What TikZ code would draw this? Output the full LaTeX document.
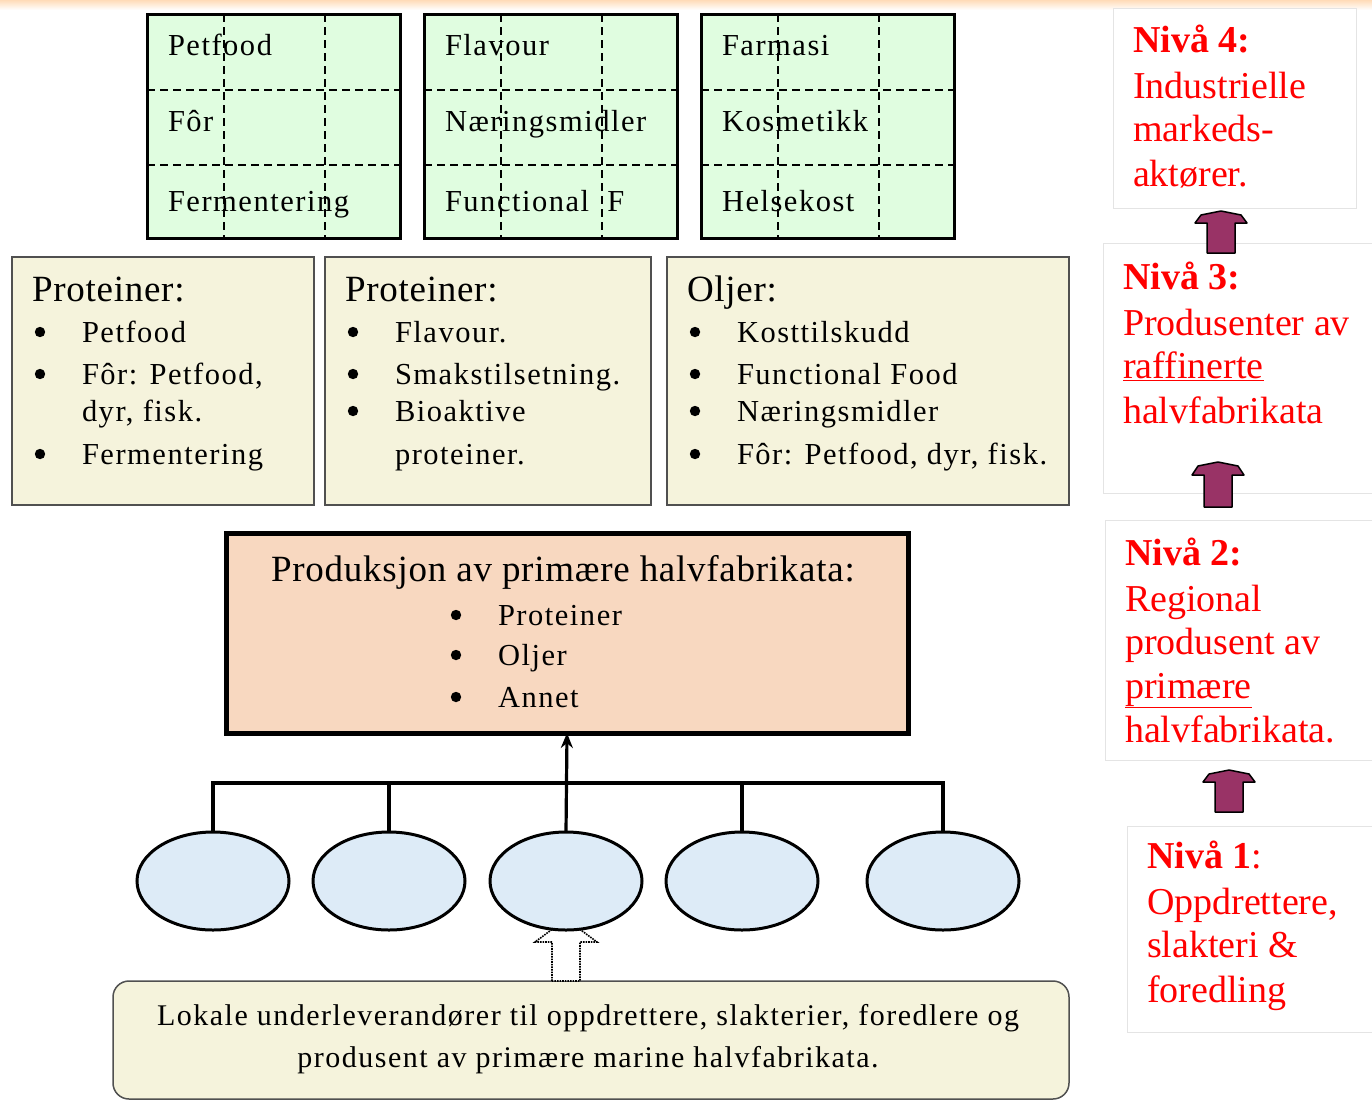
\documentclass[tikz,border=0pt]{standalone}
\usepackage{fontspec}
\setmainfont{Liberation Serif}
\newfontfamily\spacedf[LetterSpace=5]{Liberation Serif}
\newfontfamily\headf[LetterSpace=2]{Liberation Serif}
\usetikzlibrary{calc,shapes.geometric,arrows.meta}
\definecolor{greenfill}{HTML}{E0FDE0}
\definecolor{tanfill}{HTML}{F5F3DC}
\definecolor{peach}{HTML}{F8D8C0}
\definecolor{ellfill}{HTML}{DDEBF7}
\definecolor{purp}{HTML}{993366}
\definecolor{nivred}{HTML}{FF0000}
\definecolor{tanline}{HTML}{505050}
\definecolor{nivline}{HTML}{E4E4E4}
\begin{document}
\begin{tikzpicture}[x=1pt,y=-1pt,
  every node/.style={inner sep=0pt, outer sep=0pt},
  greenbox/.style={draw=black, line width=3pt, fill=greenfill, minimum width=253pt, minimum height=224pt, anchor=north west},
  gridline/.style={dash pattern=on 8pt off 5pt, line width=1.6pt},
  gtext/.style={anchor=base west, font=\spacedf\fontsize{30.5}{34}\selectfont},
  tanbox/.style={draw=tanline, line width=2pt, fill=tanfill, minimum height=248pt, anchor=north west},
  headtext/.style={anchor=base west, font=\headf\fontsize{37}{44}\selectfont},
  ell/.style={ellipse, draw=black, line width=3pt, fill=ellfill, minimum width=152pt, minimum height=98pt},
  bus/.style={line width=3.2pt},
  nivbox/.style={draw=nivline, line width=1pt, fill=white, anchor=north west},
  redt/.style={anchor=base west, text=nivred, font=\fontsize{38}{44}\selectfont},
  purparrow/.style={fill=purp, draw=black, line width=1.5pt, line join=round},
  dotarrow/.style={densely dotted, line width=1.6pt, fill=white}
]
\useasboundingbox (0,0) rectangle (1372,1100);
\fill[white] (0,0) rectangle (1372,1100);
\shade[top color=orange!28, bottom color=white] (0,0) rectangle (1372,10);

% ---------- green boxes ----------
\node[greenbox] (g1) at (147,14) {};
\node[greenbox] (g2) at (424,14) {};
\node[greenbox] (g3) at (701,14) {};
\foreach \g in {g1,g2,g3}{
  \draw[gridline] ($(\g.north west)+(77,0)$) -- ($(\g.south west)+(77,0)$);
  \draw[gridline] ($(\g.north west)+(178,0)$) -- ($(\g.south west)+(178,0)$);
  \draw[gridline] ($(\g.north west)+(0,76)$) -- ($(\g.north east)+(0,76)$);
  \draw[gridline] ($(\g.north west)+(0,151)$) -- ($(\g.north east)+(0,151)$);
  \draw[line width=3pt] (\g.north west) rectangle (\g.south east);
}
\node[gtext] (g1a) at (168,55) {Petfood};
\node[gtext] (g1b) at (168,131) {Fôr};
\node[gtext] (g1c) at (168,211) {Fermentering};
\node[gtext] (g2a) at (445,55) {Flavour};
\node[gtext] (g2b) at (445,131) {Næringsmidler};
\node[gtext] (g2c) at (445,211) {Functional\ \ F};
\node[gtext] (g3a) at (722,55) {Farmasi};
\node[gtext] (g3b) at (722,131) {Kosmetikk};
\node[gtext] (g3c) at (722,211) {Helsekost};

% ---------- tan boxes ----------
\node[tanbox, minimum width=302pt] (t1) at (12,257) {};
\node[tanbox, minimum width=326pt] (t2) at (325,257) {};
\node[tanbox, minimum width=402pt] (t3) at (667,257) {};

\node[headtext] (t1h) at (32,301) {Proteiner:};
\node[gtext] (t1a) at (82,342) {Petfood};
\node[gtext] (t1b) at (82,384) {Fôr: Petfood,};
\node[gtext] (t1c) at (82,421) {dyr, fisk.};
\node[gtext] (t1d) at (82,464) {Fermentering};

\node[headtext] (t2h) at (345,301) {Proteiner:};
\node[gtext] (t2a) at (395,342) {Flavour.};
\node[gtext] (t2b) at (395,384) {Smakstilsetning.};
\node[gtext] (t2c) at (395,421) {Bioaktive};
\node[gtext] (t2d) at (395,464) {proteiner.};

\node[headtext] (t3h) at (687,301) {Oljer:};
\node[gtext] (t3a) at (737,342) {Kosttilskudd};
\node[gtext] (t3b) at (737,384) {Functional Food};
\node[gtext] (t3c) at (737,421) {Næringsmidler};
\node[gtext] (t3d) at (737,464) {Fôr: Petfood, dyr, fisk.};

% ---------- production box ----------
\node[draw=black, line width=5pt, fill=peach, minimum width=682pt, minimum height=200pt, anchor=north west] (prod) at (226,533) {};
\node[anchor=base, font=\headf\fontsize{37}{44}\selectfont] (prodh) at (563,581) {Produksjon av primære halvfabrikata:};
\node[gtext] (pa) at (498,625) {Proteiner};
\node[gtext] (pb) at (498,665) {Oljer};
\node[gtext] (pc) at (498,707) {Annet};

% bullets (list markers)
\foreach \it/\dx in {t1a/42,t1b/42,t1d/42,t2a/42,t2b/42,t2c/42,t3a/42,t3b/42,t3c/42,t3d/42,pa/42,pb/42,pc/42}{
  \fill ($(\it.base west)+(-\dx,-10)$) circle (5.2pt);
}

% ---------- bottom box ----------
\node[draw=tanline, line width=1.5pt, rounded corners=16pt, fill=tanfill, minimum width=956pt, minimum height=118pt, anchor=north west] (low) at (113,981) {};
\node[anchor=base, font=\spacedf\fontsize{30}{34}\selectfont] (lowa) at (588,1025) {Lokale underleverandører til oppdrettere, slakterier, foredlere og};
\node[anchor=base, font=\spacedf\fontsize{30}{34}\selectfont] (lowb) at (588,1067) {produsent av primære marine halvfabrikata.};

% ---------- ellipses ----------
\coordinate (e3pos) at (566,881);
\coordinate (da) at (566,981);
\draw[dotarrow] ($(da)+(-14,0)$) -- ($(da)+(-14,-39)$) -- ($(da)+(-31,-39)$) -- ($(da)+(0,-62)$)
   -- ($(da)+(31,-39)$) -- ($(da)+(14,-39)$) -- ($(da)+(14,0)$) -- cycle;
\node[ell] (e1) at (213,881) {};
\node[ell] (e2) at (389,881) {};
\node[ell] (e3) at (e3pos) {};
\node[ell] (e4) at (742,881) {};
\node[ell] (e5) at (943,881) {};
\coordinate (busy) at (0,783);
\draw[bus] (e1.north) -- (e1.north |- busy) -- (e5.north |- busy) -- (e5.north);
\draw[bus] (e2.north) -- (e2.north |- busy);
\draw[bus] (e4.north) -- (e4.north |- busy);
\draw[bus, -{Stealth[length=15pt,width=12pt]}] (e3.north) -- (prod.south);

% ---------- levels ----------
\node[nivbox, minimum width=243pt, minimum height=200pt] (n4) at (1113,8) {};
\node[nivbox, minimum width=280pt, minimum height=250pt] (n3) at (1103,243) {};
\node[nivbox, minimum width=280pt, minimum height=240pt] (n2) at (1105,520) {};
\node[nivbox, minimum width=260pt, minimum height=206pt] (n1) at (1127,826) {};

\node[redt] (n4a) at (1133,52) {\textbf{Nivå 4:}};
\node[redt] (n4b) at (1133,98) {Industrielle};
\node[redt] (n4c) at (1133,141) {markeds-};
\node[redt] (n4d) at (1133,186) {aktører.};

\node[redt] (n3a) at (1123,289) {\textbf{Nivå 3:}};
\node[redt] (n3b) at (1123,335) {Produsenter av};
\node[redt] (n3c) at (1123,378) {\underline{raffinerte}};
\node[redt] (n3d) at (1123,423) {halvfabrikata};

\node[redt] (n2a) at (1125,565) {\textbf{Nivå 2:}};
\node[redt] (n2b) at (1125,611) {Regional};
\node[redt] (n2c) at (1125,654) {produsent av};
\node[redt] (n2d) at (1125,698) {\underline{primære}};
\node[redt] (n2e) at (1125,742) {halvfabrikata.};

\node[redt] (n1a) at (1147,868) {\textbf{Nivå 1}:};
\node[redt] (n1b) at (1147,914) {Oppdrettere,};
\node[redt] (n1c) at (1147,957) {slakteri \&};
\node[redt] (n1d) at (1147,1002) {foredling};

% purple arrows (level connectors)
\foreach \cx/\top/\hb/\bot in {1221/211/223/253, 1218/462/475/507, 1229/770/782/812}{
  \draw[purparrow] (\cx-14,\bot) -- (\cx-14,\hb) -- (\cx-26,\hb) -- (\cx-20,\top+4) -- (\cx,\top) -- (\cx+20,\top+4) -- (\cx+26,\hb)
     -- (\cx+14,\hb) -- (\cx+14,\bot) -- cycle;
}
\end{tikzpicture}
\end{document}
